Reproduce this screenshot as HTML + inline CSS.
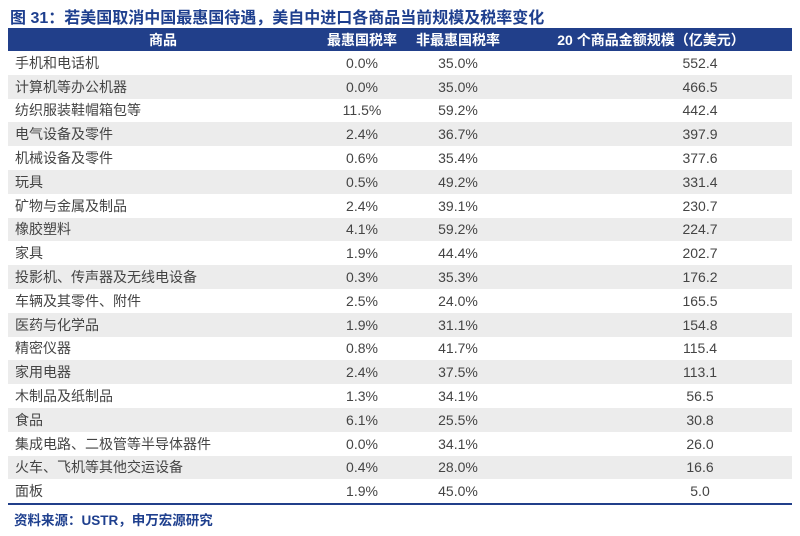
<!DOCTYPE html>
<html><head><meta charset="utf-8"><style>
body{margin:0;width:800px;height:536px;background:#fff;font-family:"Liberation Sans","Noto Sans CJK SC",sans-serif;position:relative;overflow:hidden}
.title{position:absolute;left:10px;top:4px;font-size:16px;font-weight:bold;color:#1e3f8e;white-space:nowrap}
table{position:absolute;left:8px;top:28px;width:784px;border-collapse:collapse;font-size:14px;color:#444;table-layout:fixed}
th{background:#213f8a;color:#fff;height:23px;font-weight:bold;padding:0;font-size:14px}
td{height:23.8px;padding:0;line-height:16px}
tbody tr:nth-child(even) td{background:#ececec}
td:first-child{padding-left:7px}
td.c{text-align:center}
td.d{text-align:center;padding-left:98px}
tbody tr:last-child td{border-bottom:2px solid #213f8a}
.src{position:absolute;left:14px;top:509px;font-size:13.5px;font-weight:bold;color:#1e3f8e}
</style></head><body>
<div class="title">图 31：若美国取消中国最惠国待遇，美自中进口各商品当前规模及税率变化</div>
<table>
<colgroup><col style="width:310px"><col style="width:88px"><col style="width:104px"><col></colgroup>
<thead><tr><th>商品</th><th>最惠国税率</th><th>非最惠国税率</th><th>20 个商品金额规模（亿美元）</th></tr></thead>
<tbody>
<tr><td>手机和电话机</td><td class="c">0.0%</td><td class="c">35.0%</td><td class="d">552.4</td></tr>
<tr><td>计算机等办公机器</td><td class="c">0.0%</td><td class="c">35.0%</td><td class="d">466.5</td></tr>
<tr><td>纺织服装鞋帽箱包等</td><td class="c">11.5%</td><td class="c">59.2%</td><td class="d">442.4</td></tr>
<tr><td>电气设备及零件</td><td class="c">2.4%</td><td class="c">36.7%</td><td class="d">397.9</td></tr>
<tr><td>机械设备及零件</td><td class="c">0.6%</td><td class="c">35.4%</td><td class="d">377.6</td></tr>
<tr><td>玩具</td><td class="c">0.5%</td><td class="c">49.2%</td><td class="d">331.4</td></tr>
<tr><td>矿物与金属及制品</td><td class="c">2.4%</td><td class="c">39.1%</td><td class="d">230.7</td></tr>
<tr><td>橡胶塑料</td><td class="c">4.1%</td><td class="c">59.2%</td><td class="d">224.7</td></tr>
<tr><td>家具</td><td class="c">1.9%</td><td class="c">44.4%</td><td class="d">202.7</td></tr>
<tr><td>投影机、传声器及无线电设备</td><td class="c">0.3%</td><td class="c">35.3%</td><td class="d">176.2</td></tr>
<tr><td>车辆及其零件、附件</td><td class="c">2.5%</td><td class="c">24.0%</td><td class="d">165.5</td></tr>
<tr><td>医药与化学品</td><td class="c">1.9%</td><td class="c">31.1%</td><td class="d">154.8</td></tr>
<tr><td>精密仪器</td><td class="c">0.8%</td><td class="c">41.7%</td><td class="d">115.4</td></tr>
<tr><td>家用电器</td><td class="c">2.4%</td><td class="c">37.5%</td><td class="d">113.1</td></tr>
<tr><td>木制品及纸制品</td><td class="c">1.3%</td><td class="c">34.1%</td><td class="d">56.5</td></tr>
<tr><td>食品</td><td class="c">6.1%</td><td class="c">25.5%</td><td class="d">30.8</td></tr>
<tr><td>集成电路、二极管等半导体器件</td><td class="c">0.0%</td><td class="c">34.1%</td><td class="d">26.0</td></tr>
<tr><td>火车、飞机等其他交运设备</td><td class="c">0.4%</td><td class="c">28.0%</td><td class="d">16.6</td></tr>
<tr><td>面板</td><td class="c">1.9%</td><td class="c">45.0%</td><td class="d">5.0</td></tr>
</tbody></table>
<div class="src">资料来源：USTR，申万宏源研究</div>
</body></html>
